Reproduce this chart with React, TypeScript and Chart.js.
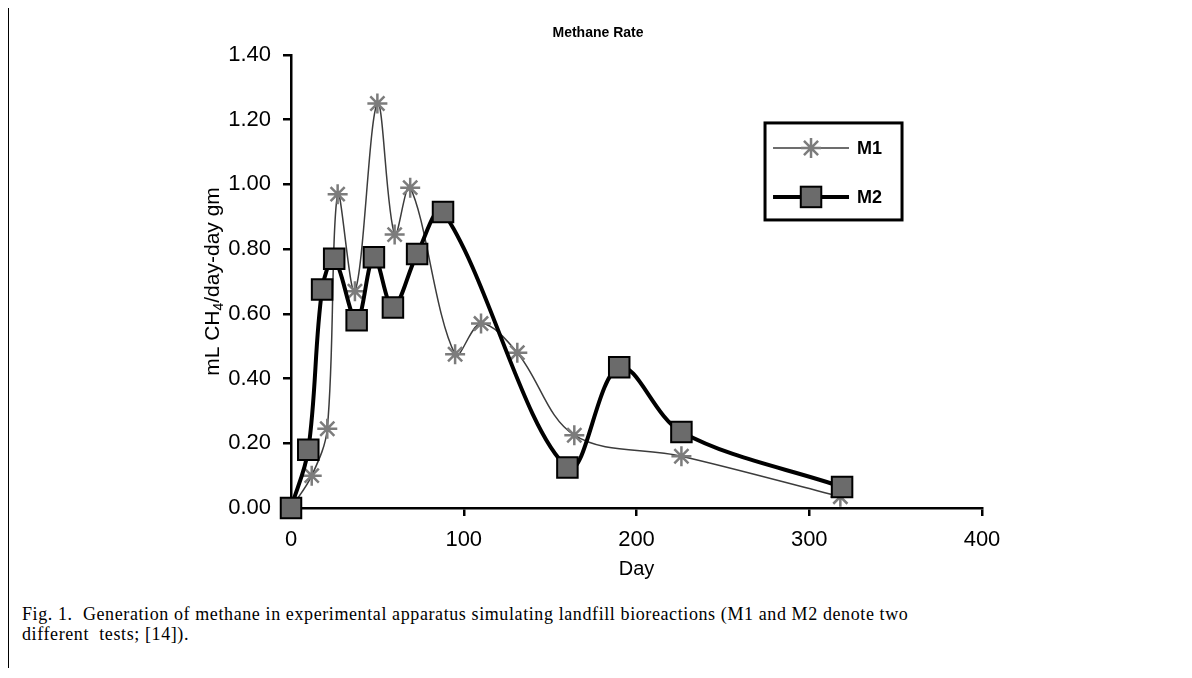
import React, { useEffect, useRef } from 'react';
import { Chart, registerables } from 'chart.js';

Chart.register(...registerables);

// ---- data ----
const chartTitle = 'Methane Rate';
const xTitle = 'Day';
const yTitleParts = ['mL CH', '4', '/day-day gm'];
const captionLine1 = 'Fig. 1.  Generation of methane in experimental apparatus simulating landfill bioreactions (M1 and M2 denote two';
const captionLine2 = 'different  tests; [14]).';

const seriesNames = ['M1', 'M2'];
const m1Days = [0, 12, 21, 27, 37, 50, 60, 69, 95, 110, 131, 164, 226, 318];
const m1Values = [0.0, 0.1, 0.245, 0.97, 0.67, 1.25, 0.845, 0.99, 0.475, 0.57, 0.48, 0.225, 0.16, 0.035];
const m2Days = [0, 10, 18, 25, 38, 48, 59, 73, 88, 160, 190, 226, 319];
const m2Values = [0.0, 0.18, 0.675, 0.77, 0.58, 0.775, 0.62, 0.785, 0.915, 0.125, 0.435, 0.235, 0.065];

const xMin = 0;
const xMax = 400;
const xStep = 100;
const yMin = 0;
const yMax = 1.4;
const yStep = 0.2;

const SANS = '"Liberation Sans", Arial, Helvetica, sans-serif';

function drawStar(ctx: CanvasRenderingContext2D, x: number, y: number, r: number) {
  ctx.beginPath();
  for (let k = 0; k < 4; k++) {
    const a = (k * Math.PI) / 4;
    ctx.moveTo(x - Math.cos(a) * r, y - Math.sin(a) * r);
    ctx.lineTo(x + Math.cos(a) * r, y + Math.sin(a) * r);
  }
  ctx.stroke();
}

const annotationsPlugin = {
  id: 'annotations',
  afterDraw(chart: any) {
    const { ctx, chartArea } = chart;
    const ds = chart.data.datasets;
    ctx.save();
    ctx.fillStyle = '#000';

    // chart title, centred on the whole canvas
    ctx.font = `bold 14px ${SANS}`;
    ctx.textAlign = 'center';
    ctx.textBaseline = 'middle';
    ctx.fillText(chartTitle, chart.width / 2, 25);

    // x axis title
    ctx.font = `20px ${SANS}`;
    ctx.fillText(xTitle, (chartArea.left + chartArea.right) / 2, chartArea.bottom + 61);

    // y axis title with subscript
    ctx.save();
    ctx.translate(chartArea.left - 78, (chartArea.top + chartArea.bottom) / 2);
    ctx.rotate(-Math.PI / 2);
    const fonts = [`21px ${SANS}`, `14px ${SANS}`, `21px ${SANS}`];
    const offs = [0, 6, 0];
    let total = 0;
    const widths = yTitleParts.map((t, i) => {
      ctx.font = fonts[i];
      const w = ctx.measureText(t).width;
      total += w;
      return w;
    });
    let px = -total / 2;
    ctx.textAlign = 'left';
    ctx.textBaseline = 'middle';
    yTitleParts.forEach((t, i) => {
      ctx.font = fonts[i];
      ctx.fillText(t, px, offs[i]);
      px += widths[i];
    });
    ctx.restore();

    // legend box
    const w = chartArea.right - chartArea.left;
    const h = chartArea.bottom - chartArea.top;
    const bx = chartArea.left + w * 0.686;
    const by = chartArea.top + h * 0.15;
    const bw = 137;
    const bh = 97;
    ctx.fillStyle = '#fff';
    ctx.fillRect(bx, by, bw, bh);
    ctx.strokeStyle = '#000';
    ctx.lineWidth = 3;
    ctx.strokeRect(bx, by, bw, bh);

    const rows = [by + 25, by + 74];
    rows.forEach((ry, i) => {
      const d = ds[i];
      ctx.strokeStyle = d.borderColor;
      ctx.lineWidth = d.borderWidth;
      ctx.beginPath();
      ctx.moveTo(bx + 8, ry);
      ctx.lineTo(bx + 84, ry);
      ctx.stroke();
      const cx = bx + 46;
      if (d.pointStyle === 'star') {
        ctx.strokeStyle = d.pointBorderColor;
        ctx.lineWidth = d.pointBorderWidth;
        drawStar(ctx, cx, ry, d.pointRadius);
      } else {
        const s = d.pointRadius * Math.SQRT1_2;
        ctx.fillStyle = d.pointBackgroundColor;
        ctx.fillRect(cx - s, ry - s, 2 * s, 2 * s);
        ctx.strokeStyle = d.pointBorderColor;
        ctx.lineWidth = d.pointBorderWidth;
        ctx.strokeRect(cx - s, ry - s, 2 * s, 2 * s);
      }
      ctx.fillStyle = '#000';
      ctx.font = `bold 18px ${SANS}`;
      ctx.textAlign = 'left';
      ctx.textBaseline = 'middle';
      ctx.fillText(d.label, bx + 92, ry + 1);
    });

    ctx.restore();
  },
};

export default function App() {
  const canvasRef = useRef<HTMLCanvasElement | null>(null);

  useEffect(() => {
    if (!canvasRef.current) return;
    const chart = new Chart(canvasRef.current, {
      type: 'line',
      data: {
        datasets: [
          {
            label: seriesNames[0],
            data: m1Days.map((d, i) => ({ x: d, y: m1Values[i] })),
            borderColor: '#3c3c3c',
            borderWidth: 1.5,
            pointStyle: 'star',
            pointRadius: 10,
            pointBorderColor: '#7c7c7c',
            pointBackgroundColor: '#7c7c7c',
            pointBorderWidth: 2.5,
            tension: 0.35,
            clip: false,
            order: 1,
          } as any,
          {
            label: seriesNames[1],
            data: m2Days.map((d, i) => ({ x: d, y: m2Values[i] })),
            borderColor: '#000',
            borderWidth: 4,
            pointStyle: 'rect',
            pointRadius: 14.5,
            pointBackgroundColor: '#6b6b6b',
            pointBorderColor: '#000',
            pointBorderWidth: 2,
            tension: 0.35,
            clip: false,
            order: 0,
          } as any,
        ],
      },
      options: {
        animation: false,
        responsive: false,
        maintainAspectRatio: false,
        layout: { padding: { left: 0, right: 206, top: 47, bottom: 0 } },
        plugins: {
          legend: { display: false },
          tooltip: { enabled: false },
          title: { display: false },
        },
        scales: {
          x: {
            type: 'linear',
            min: xMin,
            max: xMax,
            afterFit: (s: any) => {
              s.height = 95;
            },
            ticks: {
              stepSize: xStep,
              color: '#000',
              font: { family: SANS, size: 22 },
              padding: 11,
              maxRotation: 0,
            },
            grid: { display: true, drawOnChartArea: false, drawTicks: true, tickLength: 8, color: '#000', lineWidth: 2.5 },
            border: { display: true, color: '#000', width: 2.5 },
          },
          y: {
            type: 'linear',
            min: yMin,
            max: yMax,
            afterFit: (s: any) => {
              s.width = 283;
            },
            ticks: {
              stepSize: yStep,
              color: '#000',
              font: { family: SANS, size: 22 },
              padding: 12,
              callback: (v: any) => Number(v).toFixed(2),
            },
            grid: { display: true, drawOnChartArea: false, drawTicks: true, tickLength: 8, color: '#000', lineWidth: 2.5 },
            border: { display: true, color: '#000', width: 2.5 },
          },
        },
      } as any,
      plugins: [annotationsPlugin],
    });
    return () => chart.destroy();
  }, []);

  return (
    <div style={{ position: 'relative', width: 1176, height: 660 }}>
      <div style={{ position: 'absolute', left: -2, top: -3, width: 1184, height: 3, background: '#000' }} />
      <div style={{ position: 'absolute', left: -2, top: -3, width: 3, height: 673, background: '#000' }} />
      <canvas
        ref={canvasRef}
        width={1180}
        height={595}
        style={{ position: 'absolute', left: 0, top: 0, width: 1180, height: 595 }}
      />
      <div
        style={{
          position: 'absolute',
          left: 14,
          top: 596,
          fontFamily: '"Liberation Serif", "Times New Roman", serif',
          fontSize: 18,
          letterSpacing: '0.6px',
          lineHeight: '20px',
          whiteSpace: 'pre',
          color: '#000',
        }}
      >
        {captionLine1}
        <br />
        {captionLine2}
      </div>
    </div>
  );
}
